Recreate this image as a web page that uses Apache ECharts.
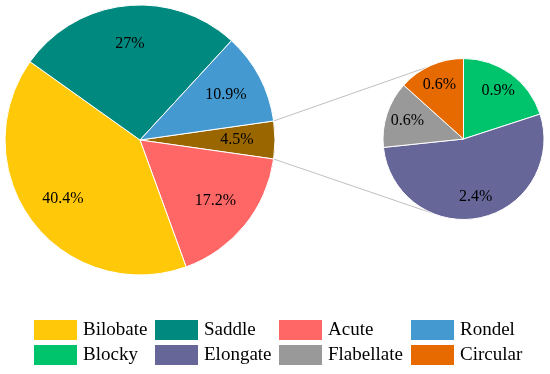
<!DOCTYPE html>
<html>
<head>
<meta charset="utf-8">
<script src="https://cdn.jsdelivr.net/npm/echarts@6/dist/echarts.min.js"></script>
<style>html,body{margin:0;padding:0;background:#fff}#c{width:550px;height:374px}</style>
</head>
<body>
<div id="c"></div>
<script>
const mainNames = ['Other', 'Acute', 'Bilobate', 'Saddle', 'Rondel'];
const mainValues = [4.5, 17.2, 40.4, 27, 10.9];
const subNames = ['Blocky', 'Elongate', 'Flabellate', 'Circular'];
const subValues = [0.9, 2.4, 0.6, 0.6];
const legendColumns = [['Bilobate', 'Blocky'], ['Saddle', 'Elongate'], ['Acute', 'Flabellate'], ['Rondel', 'Circular']];
const colorMap = {
  Other: '#996600', Acute: '#FF6666', Bilobate: '#FFC90A', Saddle: '#00897F', Rondel: '#4499D0',
  Blocky: '#00C46C', Elongate: '#666699', Flabellate: '#999999', Circular: '#E66A00'
};

const FONT = 'Liberation Serif';
const mainC = [140, 140], mainR = 135;
const subC = [463.5, 139], subR = 80.5;
const total = mainValues.reduce((a, b) => a + b, 0);
const mainStart = mainValues[0] / total * 360 / 2;

function mk(names, values) {
  return names.map((n, i) => ({ name: n, value: values[i], itemStyle: { color: colorMap[n] } }));
}
function ring(names, values) {
  return names.map((n, i) => ({ name: n, value: values[i] }));
}
const d = Math.PI / 180;
function pt(c, r, a) { return [c[0] + r * Math.cos(a * d), c[1] - r * Math.sin(a * d)]; }
const m1 = pt(mainC, mainR, mainStart), m2 = pt(mainC, mainR, -mainStart);
const s1 = pt(subC, subR, 117), s2 = pt(subC, subR, -113);

const baseStyle = { borderColor: '#fff', borderWidth: 1 };
const lbl = { show: true, position: 'inside', color: '#000', fontFamily: FONT, fontSize: 16, formatter: '{c}%' };

const chart = echarts.init(document.getElementById('c'), null, { renderer: 'canvas' });
chart.setOption({
  animation: false,
  textStyle: { fontFamily: FONT },
  legend: legendColumns.map((col, i) => ({
    data: col, orient: 'vertical', left: [34, 155, 279, 411][i], top: 320, padding: 0,
    itemWidth: 43, itemHeight: 20, itemGap: 5, icon: 'rect', selectedMode: false,
    itemStyle: { borderWidth: 0 },
    textStyle: { fontFamily: FONT, fontSize: 19, color: '#000', padding: [0, 0, 0, 1] }
  })),
  graphic: [
    { type: 'line', z: 1, shape: { x1: m1[0], y1: m1[1], x2: s1[0], y2: s1[1] }, style: { stroke: '#BFBFBF', lineWidth: 1 } },
    { type: 'line', z: 1, shape: { x1: m2[0], y1: m2[1], x2: s2[0], y2: s2[1] }, style: { stroke: '#BFBFBF', lineWidth: 1 } }
  ],
  series: [
    { type: 'pie', center: mainC, radius: mainR, startAngle: mainStart, clockwise: true,
      data: mk(mainNames, mainValues), itemStyle: baseStyle, label: { show: false }, labelLine: { show: false },
      emphasis: { disabled: true } },
    { type: 'pie', center: subC, radius: subR, startAngle: 90, clockwise: true,
      data: mk(subNames, subValues), itemStyle: baseStyle, label: { show: false }, labelLine: { show: false },
      emphasis: { disabled: true } },
    { type: 'pie', center: mainC, radius: [2 * 94 - mainR, mainR], startAngle: mainStart, clockwise: true, silent: true,
      legendHoverLink: false, data: ring(mainNames, mainValues),
      itemStyle: { color: 'rgba(0,0,0,0)', borderWidth: 0 }, label: lbl, labelLine: { show: false }, emphasis: { disabled: true } },
    { type: 'pie', center: subC, radius: [2 * 56 - subR, subR], startAngle: 90, clockwise: true, silent: true,
      legendHoverLink: false, data: ring(subNames, subValues),
      itemStyle: { color: 'rgba(0,0,0,0)', borderWidth: 0 }, label: lbl, labelLine: { show: false }, emphasis: { disabled: true } }
  ]
});
</script>
</body>
</html>
